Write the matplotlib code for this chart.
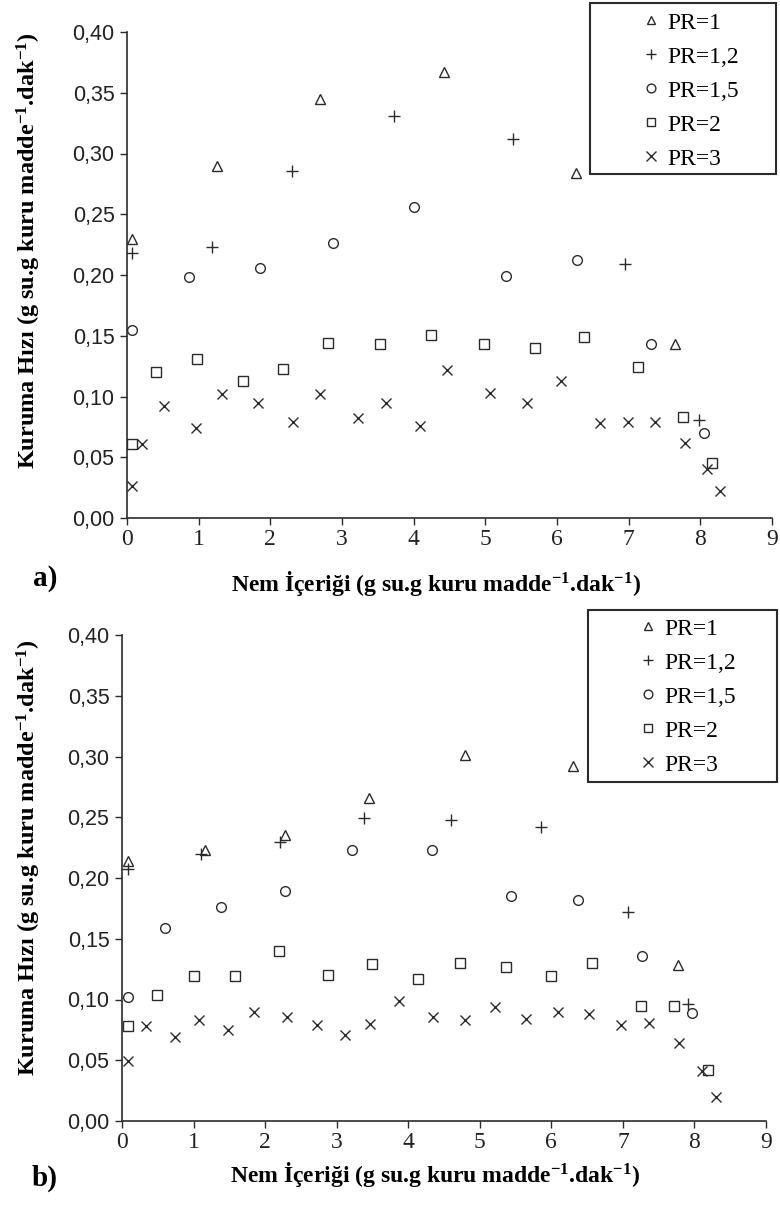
import numpy as np
import matplotlib.pyplot as plt
from matplotlib.patches import Rectangle
from matplotlib.ticker import FuncFormatter

plt.rcParams['mathtext.default'] = 'regular'

# --- veri: a) paneli ---
a_pr1_x = [0.07, 1.25, 2.70, 4.43, 6.26, 7.65]
a_pr1_y = [0.230, 0.290, 0.345, 0.367, 0.284, 0.143]
a_pr12_x = [0.07, 1.18, 2.30, 3.73, 5.38, 6.95, 7.98]
a_pr12_y = [0.218, 0.223, 0.286, 0.331, 0.312, 0.209, 0.081]
a_pr15_x = [0.07, 0.87, 1.85, 2.88, 4.00, 5.29, 6.28, 7.31, 8.05]
a_pr15_y = [0.155, 0.198, 0.206, 0.226, 0.256, 0.199, 0.212, 0.143, 0.070]
a_pr2_x = [0.07, 0.40, 0.97, 1.62, 2.18, 2.81, 3.53, 4.24, 4.98, 5.69, 6.38, 7.13, 7.76, 8.16]
a_pr2_y = [0.061, 0.120, 0.131, 0.113, 0.123, 0.144, 0.143, 0.151, 0.143, 0.140, 0.149, 0.124, 0.083, 0.045]
a_pr3_x = [0.07, 0.21, 0.51, 0.96, 1.33, 1.83, 2.32, 2.70, 3.22, 3.61, 4.09,
           4.47, 5.06, 5.58, 6.05, 6.60, 6.99, 7.37, 7.78, 8.09, 8.28]
a_pr3_y = [0.026, 0.061, 0.092, 0.074, 0.102, 0.095, 0.079, 0.102, 0.082, 0.095, 0.076,
           0.122, 0.103, 0.095, 0.113, 0.078, 0.079, 0.079, 0.062, 0.040, 0.022]

# --- veri: b) paneli ---
b_pr1_x = [0.09, 1.16, 2.28, 3.45, 4.79, 6.30, 7.77]
b_pr1_y = [0.214, 0.223, 0.235, 0.266, 0.301, 0.292, 0.128]
b_pr12_x = [0.09, 1.10, 2.21, 3.38, 4.60, 5.86, 7.07, 7.91]
b_pr12_y = [0.207, 0.220, 0.230, 0.249, 0.248, 0.242, 0.172, 0.096]
b_pr15_x = [0.09, 0.60, 1.38, 2.28, 3.22, 4.33, 5.43, 6.37, 7.27, 7.97]
b_pr15_y = [0.102, 0.159, 0.176, 0.189, 0.223, 0.223, 0.185, 0.182, 0.136, 0.089]
b_pr2_x = [0.09, 0.49, 1.01, 1.58, 2.19, 2.88, 3.49, 4.14, 4.72, 5.36, 5.99, 6.57, 7.25, 7.71, 8.19]
b_pr2_y = [0.078, 0.104, 0.119, 0.119, 0.140, 0.120, 0.129, 0.117, 0.130, 0.127, 0.119, 0.130, 0.095, 0.095, 0.042]
b_pr3_x = [0.09, 0.34, 0.74, 1.08, 1.48, 1.85, 2.31, 2.73, 3.11, 3.46, 3.87,
           4.35, 4.79, 5.21, 5.65, 6.09, 6.53, 6.98, 7.36, 7.78, 8.10, 8.30]
b_pr3_y = [0.049, 0.078, 0.069, 0.083, 0.075, 0.090, 0.086, 0.079, 0.071, 0.080, 0.099,
           0.086, 0.083, 0.094, 0.084, 0.090, 0.088, 0.079, 0.081, 0.064, 0.041, 0.020]

labels = ['PR=1', 'PR=1,2', 'PR=1,5', 'PR=2', 'PR=3']
x_ticks = list(range(10))
y_ticks = [0.0, 0.05, 0.10, 0.15, 0.20, 0.25, 0.30, 0.35, 0.40]

panel_a = [(a_pr1_x, a_pr1_y), (a_pr12_x, a_pr12_y), (a_pr15_x, a_pr15_y),
           (a_pr2_x, a_pr2_y), (a_pr3_x, a_pr3_y)]
panel_b = [(b_pr1_x, b_pr1_y), (b_pr12_x, b_pr12_y), (b_pr15_x, b_pr15_y),
           (b_pr2_x, b_pr2_y), (b_pr3_x, b_pr3_y)]

markers = ['^', '+', 'o', 's', 'x']
msizes = [7, 8, 7, 7, 7.5]
ink = '#2b2b2b'

W, H = 780, 1205
fig = plt.figure(figsize=(W / 100, H / 100), dpi=100)


def px_rect(left, top, right, bottom):
    return [left / W, 1 - bottom / H, (right - left) / W, (bottom - top) / H]


def draw_panel(ax, data):
    for (xs, ys), m, ms, lab in zip(data, markers, msizes, labels):
        ax.plot(xs, ys, linestyle='none', marker=m, markersize=ms,
                markerfacecolor='none', markeredgecolor=ink,
                markeredgewidth=1.0, label=lab)
    ax.set_xlim(0, 9)
    ax.set_ylim(0, 0.40)
    ax.set_xticks(x_ticks)
    ax.set_yticks(y_ticks)
    ax.yaxis.set_major_formatter(FuncFormatter(lambda v, p: f'{v:.2f}'.replace('.', ',')))
    for s in ['top', 'right']:
        ax.spines[s].set_visible(False)
    for s in ['left', 'bottom']:
        ax.spines[s].set_color(ink)
        ax.spines[s].set_linewidth(1.2)
    ax.tick_params(direction='out', length=5, width=1, color=ink)
    ax.tick_params(axis='y', pad=4)
    ax.tick_params(axis='x', pad=3)
    for t in ax.get_yticklabels():
        t.set_fontfamily('Liberation Sans')
        t.set_fontsize(15.5)
        t.set_color('#222222')
    for t in ax.get_xticklabels():
        t.set_fontfamily('Liberation Serif')
        t.set_fontsize(17)
        t.set_color('#222222')
    ax.set_ylabel('Kuruma Hızı (g su.g kuru madde$^{-1}$.dak$^{-1}$)',
                  fontfamily='Liberation Serif', fontweight='bold', fontsize=17.5)
    ax.set_xlabel('Nem İçeriği (g su.g kuru madde$^{-1}$.dak$^{-1}$)',
                  fontfamily='Liberation Serif', fontweight='bold', fontsize=17)


ax1 = fig.add_axes(px_rect(127, 32, 772, 518))
draw_panel(ax1, panel_a)
ax1.yaxis.set_label_coords(-0.13, 0.551)
ax1.xaxis.set_label_coords(0.479, -0.105)

ax2 = fig.add_axes(px_rect(122, 635, 766, 1121))
draw_panel(ax2, panel_b)
ax2.yaxis.set_label_coords(-0.122, 0.543)
ax2.xaxis.set_label_coords(0.486, -0.080)

fig.text(45 / W, 1 - 578 / H, 'a)', fontfamily='Liberation Serif', fontweight='bold',
         fontsize=21, ha='center', va='center')
fig.text(45 / W, 1 - 1178 / H, 'b)', fontfamily='Liberation Serif', fontweight='bold',
         fontsize=21, ha='center', va='center')

# lejantlar: çerçeve ayrı çiziliyor
for ax, box, anchor in [(ax1, (590, 3, 776, 174), (640, 12)),
                        (ax2, (588, 610, 777, 782), (637, 618))]:
    ax.legend(loc='upper left', bbox_to_anchor=(anchor[0] / W, 1 - anchor[1] / H),
              bbox_transform=fig.transFigure, frameon=False, borderpad=0,
              borderaxespad=0, handlelength=0.9, handletextpad=0.25,
              labelspacing=0.53, markerscale=0.9,
              prop={'family': 'Liberation Serif', 'size': 17})
    l, t, r, b = box
    fig.add_artist(Rectangle((l / W, 1 - b / H), (r - l) / W, (b - t) / H,
                             transform=fig.transFigure, fill=False,
                             linewidth=1.5, edgecolor=ink))

fig.savefig('out.png', dpi=100, facecolor='white')
